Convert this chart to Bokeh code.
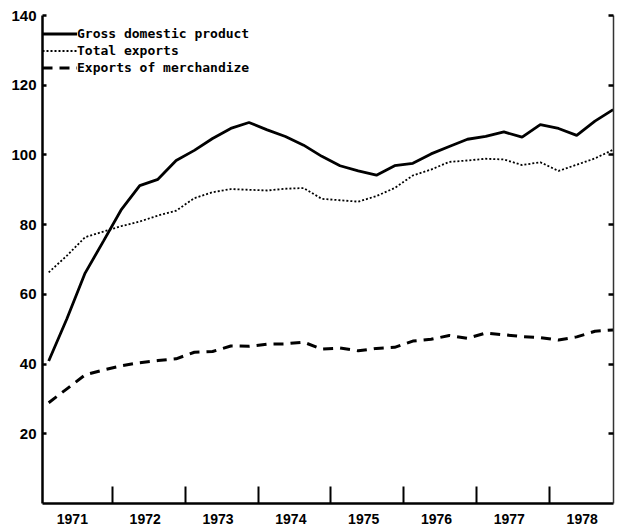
from bokeh.plotting import figure
from bokeh.models import Range1d, LinearAxis, FixedTicker, CustomJSTickFormatter, Legend, LegendItem
from bokeh.embed import file_html
from bokeh.resources import INLINE

# ---- data (quarterly, index values) ----
years = [1971, 1972, 1973, 1974, 1975, 1976, 1977, 1978]
year_labels = ["1971", "1972", "1973", "1974", "1975", "1976", "1977", "1978"]
quarters = [1, 2, 3, 4]

gdp = [40.9, 53.0, 66.1, 75.2, 84.4, 91.2, 93.0, 98.4,
       101.3, 104.7, 107.6, 109.3, 107.2, 105.3, 102.8, 99.6,
       96.9, 95.4, 94.2, 96.9, 97.6, 100.3, 102.4, 104.5,
       105.3, 106.6, 105.1, 108.7, 107.6, 105.6, 109.7, 113.0]
total_exports = [66.3, 71.1, 76.4, 78.0, 79.6, 80.9, 82.6, 84.0,
                 87.6, 89.3, 90.2, 90.0, 89.8, 90.3, 90.5, 87.4,
                 87.0, 86.6, 88.2, 90.5, 94.1, 95.8, 98.0, 98.4,
                 98.9, 98.7, 97.1, 97.9, 95.4, 97.2, 99.0, 101.5]
merchandise = [28.9, 32.9, 36.9, 38.3, 39.5, 40.4, 41.0, 41.5,
               43.4, 43.6, 45.2, 45.1, 45.7, 45.8, 46.3, 44.3,
               44.6, 43.8, 44.5, 44.8, 46.6, 47.1, 48.2, 47.4,
               48.9, 48.4, 47.9, 47.6, 46.9, 47.8, 49.4, 49.8]
y_ticks = [20, 40, 60, 80, 100, 120, 140]
series_names = ["Gross domestic product", "Total exports", "Exports of merchandize"]

x = [y + (q - 0.5) / 4 for y in years for q in quarters]

p = figure(width=616, height=530, output_backend="svg", toolbar_location=None,
           x_range=Range1d(1971.04, 1978.88), y_range=Range1d(0, 140),
           min_border_left=42, min_border_right=3, min_border_top=15, min_border_bottom=27)
p.outline_line_color = None
p.xgrid.visible = False
p.ygrid.visible = False
p.background_fill_color = "white"
p.border_fill_color = "white"

r1 = p.line(x, gdp, line_color="black", line_width=2.8)
r2 = p.line(x, total_exports, line_color="black", line_width=1.8, line_dash="2 2")
r3 = p.line(x, merchandise, line_color="black", line_width=3, line_dash="10 7")

# x axis: labels mid-year, ticks at year boundaries (minor ticks)
xa = p.xaxis[0]
xa.ticker = FixedTicker(ticks=[y + 0.45 for y in years], minor_ticks=years[1:])
xa.formatter = CustomJSTickFormatter(args=dict(labels=year_labels, start=years[0]),
                                     code="return labels[Math.floor(tick) - start];")
xa.major_tick_in = 0
xa.major_tick_out = 0
xa.minor_tick_in = 17
xa.minor_tick_out = 0
xa.minor_tick_line_width = 2
xa.minor_tick_line_color = "black"
xa.axis_line_width = 2.5
xa.axis_line_color = "black"
xa.major_label_standoff = 10
xa.major_label_text_font = "Liberation Sans"
xa.major_label_text_font_style = "bold"
xa.major_label_text_font_size = "14px"
xa.major_label_text_color = "black"

ya = p.yaxis[0]
ya.ticker = FixedTicker(ticks=y_ticks)
ya.major_tick_in = 4
ya.major_tick_out = 0
ya.minor_tick_in = 0
ya.minor_tick_out = 0
ya.major_tick_line_width = 2.5
ya.major_tick_line_color = "black"
ya.axis_line_width = 2.5
ya.axis_line_color = "black"
ya.major_label_standoff = 6
ya.major_label_text_font = "Liberation Sans"
ya.major_label_text_font_style = "bold"
ya.major_label_text_font_size = "15px"
ya.major_label_text_color = "black"

ra = LinearAxis(ticker=FixedTicker(ticks=y_ticks),
                formatter=CustomJSTickFormatter(code="return '';"))
ra.major_tick_in = 5
ra.major_tick_out = 0
ra.minor_tick_in = 0
ra.minor_tick_out = 0
ra.major_tick_line_width = 2.5
ra.major_tick_line_color = "black"
ra.axis_line_width = 1.5
ra.axis_line_color = "#333333"
ra.major_label_standoff = 0
p.add_layout(ra, "right")

legend = Legend(items=[LegendItem(label=series_names[0], renderers=[r1]),
                       LegendItem(label=series_names[1], renderers=[r2]),
                       LegendItem(label=series_names[2], renderers=[r3])],
                location=(0, 428))
legend.glyph_width = 35
legend.glyph_height = 15
legend.label_height = 15
legend.spacing = 2
legend.padding = 3
legend.margin = 0
legend.label_standoff = 0
legend.label_text_font = "DejaVu Sans Mono"
legend.label_text_font_style = "bold"
legend.label_text_font_size = "13px"
legend.label_text_color = "black"
legend.background_fill_alpha = 0
legend.border_line_color = None
p.add_layout(legend, "center")

open("out.html", "w").write(file_html(p, INLINE))
